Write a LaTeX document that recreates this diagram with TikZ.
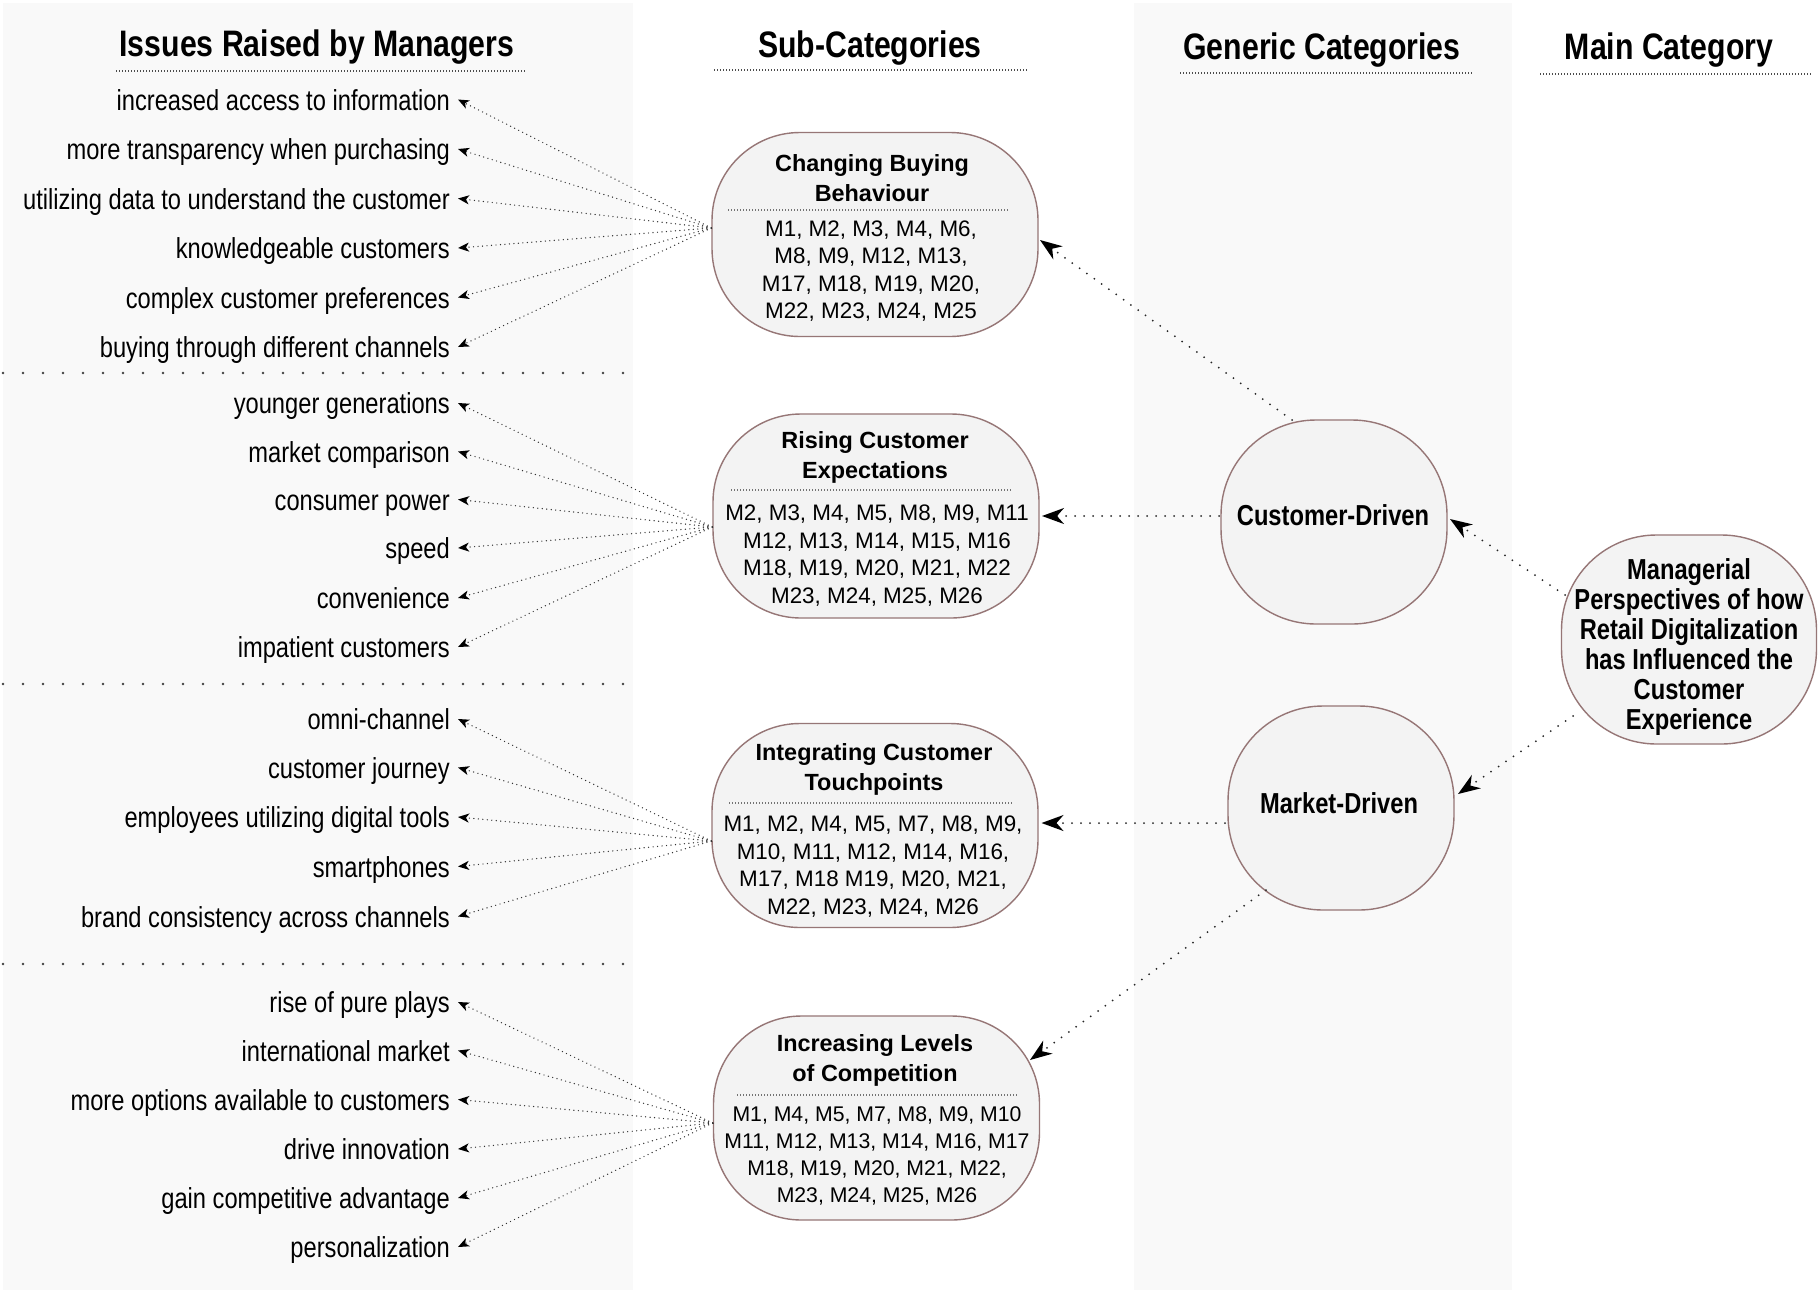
\documentclass[tikz,border=0pt]{standalone}
\usepackage{fontspec}
\setmainfont{Liberation Sans}
\newfontfamily\narrowfont[FakeStretch=0.82]{Liberation Sans}
\usetikzlibrary{arrows.meta,calc}
\definecolor{panelgray}{HTML}{F9F9F9}
\definecolor{nodefill}{HTML}{F3F3F3}
\definecolor{nodeborder}{RGB}{150,118,118}
\begin{document}
\begin{tikzpicture}[x=1bp,y=-1bp,
  panel/.style={fill=panelgray,draw=none},
  header/.style={font=\narrowfont\bfseries\fontsize{37}{40}\selectfont,inner sep=0pt},
  hline/.style={draw=black!70,line width=1.3bp,dash pattern=on 1.3bp off 1.7bp},
  groupsep/.style={draw=black!75,line width=2.6bp,line cap=round,dash pattern=on 0bp off 20bp},
  sepline/.style={draw=black!55,line width=1.1bp,dash pattern=on 1.2bp off 1.8bp},
  issue/.style={anchor=east,font=\narrowfont\fontsize{29}{30}\selectfont,inner xsep=8bp,inner ysep=0pt,text height=24bp,text depth=3bp},
  subcat/.style={draw=nodeborder,fill=nodefill,line width=1.4bp,rounded corners=88bp,minimum width=326bp,minimum height=204bp,inner sep=0pt},
  gencat/.style={draw=nodeborder,fill=nodefill,line width=1.4bp,rounded corners=95bp,minimum width=226bp,minimum height=204bp,inner sep=0pt},
  subtitle/.style={font=\bfseries\fontsize{23.5}{30}\selectfont,align=center,inner sep=0pt},
  subbody/.style={font=\fontsize{22.5}{27.5}\selectfont,align=center,inner sep=0pt},
  gentext/.style={font=\narrowfont\bfseries\fontsize{29}{30}\selectfont,align=center,inner sep=0pt},
  issuearrow/.style={draw=black!80,line width=1.4bp,line cap=round,dash pattern=on 0bp off 4.5bp,-{Stealth[length=11bp,width=9bp,inset=3bp,color=black]}},
  bigarrow/.style={draw=black!85,line width=2bp,line cap=round,dash pattern=on 0bp off 9bp,-{Stealth[length=22bp,width=16bp,inset=7bp,color=black]}}
]
\useasboundingbox (0,0) rectangle (1820,1295);
\fill[white] (0,0) rectangle (1820,1295);
% panels
\fill[panel] (3,3) rectangle (633,1290);
\fill[panel] (1134,3) rectangle (1512,1290);

% headers
\node[header] (hd1) at (317,47) {Issues Raised by Managers};
\node[header] (hd2) at (870,48) {Sub-Categories};
\node[header] (hd3) at (1322,50) {Generic Categories};
\node[header] (hd4) at (1669,50) {Main Category};
\draw[hline] (116,71) -- (525,71);
\draw[hline] (714,70) -- (1027,70);
\draw[hline] (1180,73) -- (1472,73);
\draw[hline] (1540,74) -- (1811,74);

% group separators
\draw[groupsep] (3,373) -- (624,373);
\draw[groupsep] (3,684) -- (624,684);
\draw[groupsep] (3,964) -- (624,964);

% sub-category nodes
\node[subcat] (sub1) at (875,234.5) {};
\node[subcat] (sub2) at (876,516) {};
\node[subcat] (sub3) at (875,825.5) {};
\node[subcat] (sub4) at (876.5,1118) {};

\node[subtitle] (sub1t) at (872,178) {Changing Buying\\Behaviour};
\draw[sepline] (728,210) -- (1010,210);
\node[subbody] (sub1b) at (871,271) {M1, M2, M3, M4, M6,\\M8, M9, M12, M13,\\M17, M18, M19, M20,\\M22, M23, M24, M25};

\node[subtitle] (sub2t) at (875,457.5) {Rising Customer\\Expectations};
\draw[sepline] (731,490) -- (1013,490);
\node[subbody] (sub2b) at (877,555.5) {M2, M3, M4, M5, M8, M9, M11\\M12, M13, M14, M15, M16\\M18, M19, M20, M21, M22\\M23, M24, M25, M26};

\node[subtitle] (sub3t) at (874,769) {Integrating Customer\\Touchpoints};
\draw[sepline] (729,803) -- (1012,803);
\node[subbody] (sub3b) at (873,866.5) {M1, M2, M4, M5, M7, M8, M9,\\M10, M11, M12, M14, M16,\\M17, M18 M19, M20, M21,\\M22, M23, M24, M26};

\node[subtitle] (sub4t) at (875,1060) {Increasing Levels\\of Competition};
\draw[sepline] (737,1095) -- (1018,1095);
\node[subbody,font=\fontsize{21.3}{27.3}\selectfont] (sub4b) at (877,1156) {M1, M4, M5, M7, M8, M9, M10\\M11, M12, M13, M14, M16, M17\\M18, M19, M20, M21, M22,\\M23, M24, M25, M26};

% generic and main nodes
\node[gencat] (cd) at (1334,522) {};
\node[gentext] (cdt) at (1333,515) {Customer-Driven};
\node[gencat] (md) at (1341,808) {};
\node[gentext] (mdt) at (1339,803) {Market-Driven};
\node[gencat,minimum width=255bp,minimum height=209bp] (mgr) at (1689,639.5) {};
\node[gentext] (mgrt) at (1689,647) {Managerial\\Perspectives of how\\Retail Digitalization\\has Influenced the\\Customer\\Experience};

% issue labels
\node[issue] (i11) at (458,99.5) {increased access to information};
\node[issue] (i12) at (458,149) {more transparency when purchasing};
\node[issue] (i13) at (458,198.5) {utilizing data to understand the customer};
\node[issue] (i14) at (458,248) {knowledgeable customers};
\node[issue] (i15) at (458,297.5) {complex customer preferences};
\node[issue] (i16) at (458,347) {buying through different channels};

\node[issue] (i21) at (458,403) {younger generations};
\node[issue] (i22) at (458,451.5) {market comparison};
\node[issue] (i23) at (458,499.5) {consumer power};
\node[issue] (i24) at (458,548) {speed};
\node[issue] (i25) at (458,598) {convenience};
\node[issue] (i26) at (458,647) {impatient customers};

\node[issue] (i31) at (458,719) {omni-channel};
\node[issue] (i32) at (458,767.5) {customer journey};
\node[issue] (i33) at (458,817) {employees utilizing digital tools};
\node[issue] (i34) at (458,866.5) {smartphones};
\node[issue] (i35) at (458,916.5) {brand consistency across channels};

\node[issue] (i41) at (458,1002) {rise of pure plays};
\node[issue] (i42) at (458,1050.5) {international market};
\node[issue] (i43) at (458,1099.5) {more options available to customers};
\node[issue] (i44) at (458,1149) {drive innovation};
\node[issue] (i45) at (458,1198) {gain competitive advantage};
\node[issue] (i46) at (458,1247) {personalization};

% fan-out sources
\coordinate (s1) at ([shift={(0,-6.5)}]sub1.west);
\coordinate (s2) at ([shift={(0,11)}]sub2.west);
\coordinate (s3) at ([shift={(0,15.5)}]sub3.west);
\coordinate (s4) at ([shift={(0,5)}]sub4.west);

\foreach \t in {i11,i12,i13,i14,i15,i16} \draw[issuearrow] (s1) -- (\t.east);
\foreach \t in {i21,i22,i23,i24,i25,i26} \draw[issuearrow] (s2) -- (\t.east);
\foreach \t in {i31,i32,i33,i34,i35} \draw[issuearrow] (s3) -- (\t.east);
\foreach \t in {i41,i42,i43,i44,i45,i46} \draw[issuearrow] (s4) -- (\t.east);

% big arrows
\draw[bigarrow] ([shift={(-42,-102)}]cd.center) -- ([shift={(165,5.5)}]sub1.center);
\draw[bigarrow] ([shift={(-115,-6)}]cd.center) -- ([shift={(166,0)}]sub2.center);
\draw[bigarrow] ([shift={(-124,-44.5)}]mgr.center) -- ([shift={(116,-3)}]cd.center);
\draw[bigarrow] ([shift={(-116,76.5)}]mgr.center) -- ([shift={(117,-14)}]md.center);
\draw[bigarrow] ([shift={(-116,15)}]md.center) -- ([shift={(166.5,-2.5)}]sub3.center);
\draw[bigarrow] ([shift={(-75,82)}]md.center) -- ([shift={(153.5,-58)}]sub4.center);
\end{tikzpicture}
\end{document}
